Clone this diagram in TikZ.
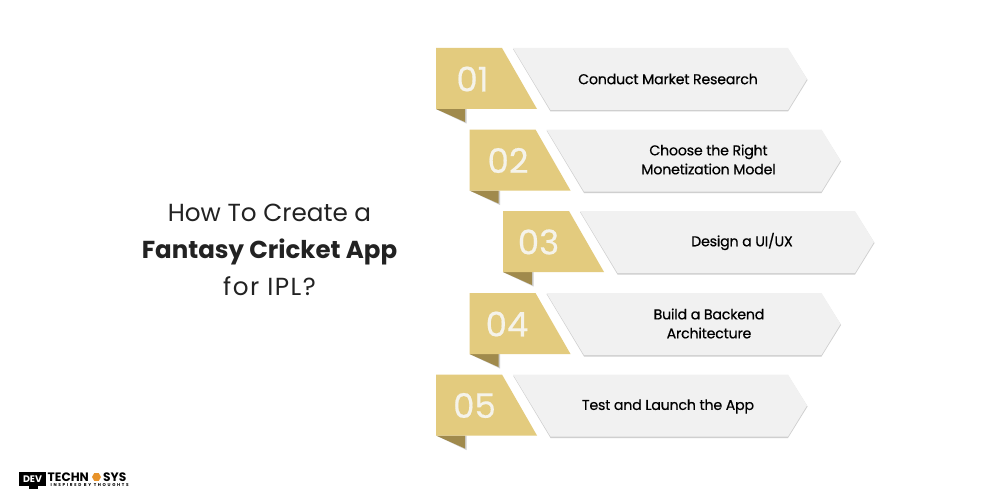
\documentclass[tikz,border=0pt]{standalone}
\usepackage{fontspec}
\usetikzlibrary{shapes.geometric}
\setmainfont{Poppins}
\definecolor{gold}{HTML}{E3CB7E}
\definecolor{golddark}{HTML}{A08A4C}
\definecolor{panel}{HTML}{F1F1F1}
\definecolor{panelshadow}{HTML}{CFCFCF}
\definecolor{ink}{HTML}{222222}
\definecolor{numcol}{HTML}{F5F3EA}
\definecolor{logoorange}{HTML}{E8932A}
\tikzset{
  numtext/.style={font=\fontsize{34}{34}\selectfont\addfontfeatures{FakeBold=0.4}, text=numcol, inner sep=0pt},
  steptext/.style={font=\fontsize{14.2}{19}\selectfont\addfontfeatures{LetterSpace=-1.5,FakeBold=0.5}, text=black, align=center, inner sep=0pt},
  titletext/.style={font=\fontsize{24.7}{37}\selectfont, text=ink, align=center, inner sep=0pt},
  logotext/.style={inner sep=0pt,anchor=west,font=\fontsize{12.2}{12}\selectfont\bfseries,text=black},
}
\newcommand{\steprow}[8]{% id, x offset, y top, number, text, label x, label y, number x
  \begin{scope}[shift={(#2,#3)}]
    \fill[panelshadow] (77,1) -- (352,1) -- (371.5,32) -- (352,63.5) -- (114.5,63.5) -- cycle;
    \fill[panel] (77,0) -- (352,0) -- (371,31) -- (352,62) -- (114.5,62) -- cycle;
    \fill[panelshadow] (0,61) -- (30.5,61) -- (30.5,75.5) -- cycle;
    \fill[golddark] (0,61) -- (29,61) -- (29,74) -- cycle;
    \fill[gold] (0,0) -- (66,0) -- (101,61) -- (0,61) -- cycle;
    \node[numtext] (num#1) at (#8,31) {#4};
    \node[steptext] (lab#1) at (#6,#7) {#5};
  \end{scope}
}
\begin{document}
\begin{tikzpicture}[x=1pt,y=-1pt]
\useasboundingbox (0,0) rectangle (1000,500);
\fill[white] (0,0) rectangle (1000,500);
\node[titletext] (title) at (269.5,249.5) {How To Create a\\{\fontsize{24.5}{37}\selectfont\bfseries Fantasy Cricket App}\\{\addfontfeatures{LetterSpace=6}for IPL?}};
\steprow{1}{436}{48}{01}{Conduct Market Research}{232}{31}{36.5}
\steprow{2}{469.5}{129.5}{02}{Choose the Right\\Monetization Model}{239}{30}{38.5}
\steprow{3}{503}{211}{03}{Design a UI/UX}{239}{30.5}{35.5}
\steprow{4}{469.5}{293}{04}{Build a Backend\\Architecture}{239.5}{30.5}{37.5}
\steprow{5}{436}{374.5}{05}{Test and Launch the App}{232}{32}{38.5}
% logo
\fill[black] (19,472) rectangle (46,486);
\fill[black] (29,486) rectangle (38,488.5);
\node[inner sep=0pt,text=white,font=\fontsize{9.5}{10}\selectfont\bfseries] (logodev) at (32.5,479.5) {DEV};
\node[logotext] (logotech) at (47.5,477) {TECHN};
\node[regular polygon,regular polygon sides=6,fill=logoorange,inner sep=0pt,minimum size=9pt] (logohex) at (96.5,477) {};
\node[logotext] (logosys) at (103,477) {SYS};
\node[inner sep=0pt,anchor=west,font=\fontsize{4.2}{5}\selectfont\bfseries\addfontfeatures{LetterSpace=40},text=black] (logotag) at (50.5,485.5) {INSPIRED BY THOUGHTS};
\end{tikzpicture}
\end{document}
